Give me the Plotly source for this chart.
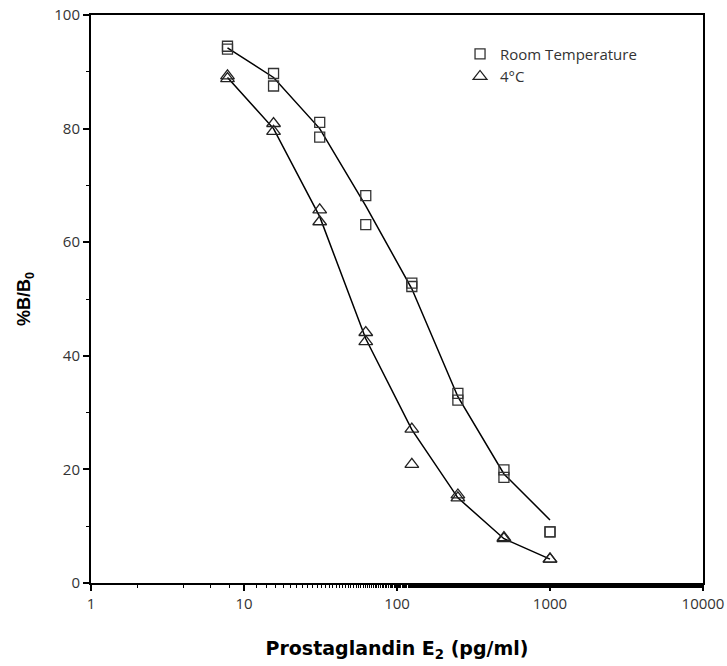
import plotly.graph_objects as go

# Doses (pg/ml)
doses = [7.8, 15.6, 31.25, 62.5, 125, 250, 500, 1000]

# Replicate measurements (%B/B0)
room_rep1 = [94.5, 89.7, 81.1, 68.2, 52.8, 33.4, 19.9, 9.0]
room_rep2 = [94.0, 87.5, 78.5, 63.1, 52.2, 32.2, 18.6, 9.0]
cold_rep1 = [89.3, 80.9, 65.7, 44.1, 27.1, 15.5, 8.0, 4.2]
cold_rep2 = [88.8, 79.5, 63.6, 42.5, 20.9, 15.0, 7.8, 4.2]

# Fitted curves
room_fit = [94.2, 89.0, 80.0, 66.4, 51.8, 32.8, 19.2, 11.1]
cold_fit = [89.0, 80.0, 64.5, 43.0, 27.0, 15.0, 7.8, 4.2]

x_tickvals = [1, 10, 100, 1000, 10000]
x_ticktext = ["1", "10", "100", "1000", "10000"]
y_tickvals = [0, 20, 40, 60, 80, 100]

fig = go.Figure()

line_style = dict(color="black", width=1.5)
fig.add_trace(go.Scatter(x=doses, y=room_fit, mode="lines", line=line_style,
                         showlegend=False, hoverinfo="skip"))
fig.add_trace(go.Scatter(x=doses, y=cold_fit, mode="lines", line=line_style,
                         showlegend=False, hoverinfo="skip"))

sq = dict(symbol="square-open", size=10, color="#333333", line=dict(width=1.3, color="#333333"))
tri = dict(symbol="triangle-up-open", size=12, color="#222222", line=dict(width=1.3, color="#222222"))

fig.add_trace(go.Scatter(x=doses + doses, y=room_rep1 + room_rep2, mode="markers",
                         marker=sq, name="Room Temperature"))
fig.add_trace(go.Scatter(x=doses + doses, y=cold_rep1 + cold_rep2, mode="markers",
                         marker=tri, name="4°C"))

tick_font = dict(family="Open Sans, Lato, sans-serif", size=15, color="#333333")

fig.update_xaxes(
    type="log", range=[0, 4], automargin=False, ticklabeloverflow="allow",
    tickvals=x_tickvals, ticktext=x_ticktext,
    ticks="outside", ticklen=6, tickwidth=1.5, tickcolor="black",
    minor=dict(ticks="outside", ticklen=3, tickwidth=1, tickcolor="black", showgrid=False),
    showline=True, linecolor="black", linewidth=2, mirror=True,
    showgrid=False, zeroline=False,
    tickfont=tick_font,
    title=dict(text="<b>Prostaglandin E<sub>2</sub> (pg/ml)</b>",
               font=dict(family="DejaVu Sans, sans-serif", size=19, color="black"),
               standoff=30),
)
fig.update_yaxes(
    range=[0, 100], automargin=False, ticklabeloverflow="allow",
    tickvals=y_tickvals,
    ticks="outside", ticklen=6, tickwidth=1.5, tickcolor="black",
    minor=dict(dtick=10, ticks="outside", ticklen=3, tickwidth=1, tickcolor="black", showgrid=False),
    showline=True, linecolor="black", linewidth=2, mirror=True,
    showgrid=False, zeroline=False,
    tickfont=tick_font,
    title=dict(text="<b>%B/B<sub>0</sub></b>",
               font=dict(family="Liberation Sans, Arial, sans-serif", size=18, color="black"),
               standoff=19),
)

fig.update_layout(
    width=727, height=666,
    margin=dict(l=91, r=24, t=15, b=83, autoexpand=False),
    plot_bgcolor="white", paper_bgcolor="white",
    legend=dict(x=0.603, y=0.96, xanchor="left", yanchor="top",
                bgcolor="rgba(0,0,0,0)", itemwidth=30, tracegroupgap=0,
                font=dict(family="Open Sans, sans-serif", size=15, color="#333333")),
)

fig.write_html("out.html", config={"displayModeBar": False},
               post_script="document.body.style.margin='0';document.body.style.overflow='hidden';")
